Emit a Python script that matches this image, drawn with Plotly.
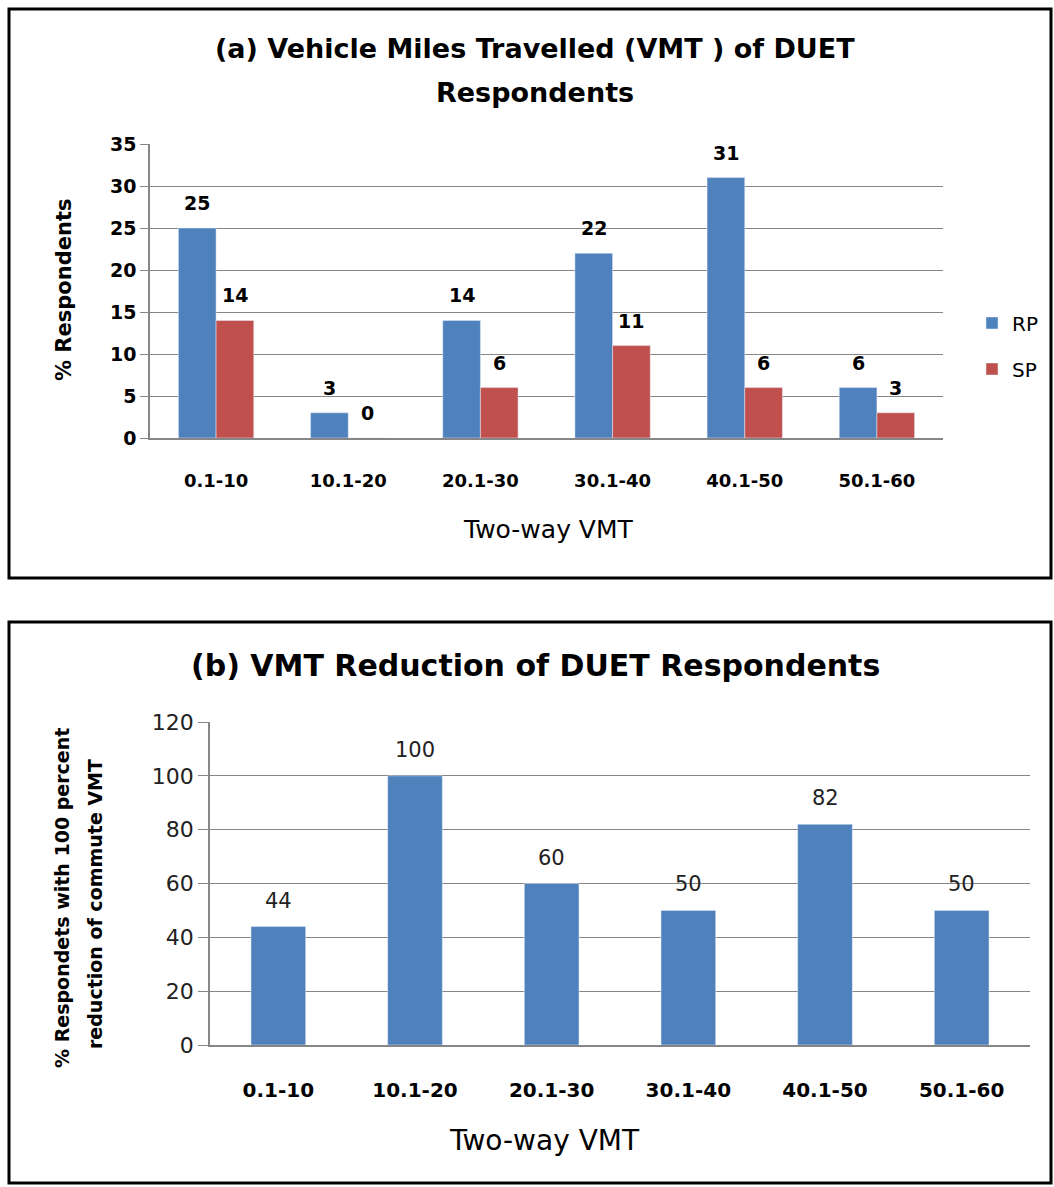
import plotly.graph_objects as go

# Two-way VMT bins shared by both panels
categories = ["0.1-10", "10.1-20", "20.1-30", "30.1-40", "40.1-50", "50.1-60"]

# Panel (a): % respondents per VMT bin
rp_values = [25, 3, 14, 22, 31, 6]
sp_values = [14, 0, 6, 11, 6, 3]

# Panel (b): % respondents with 100 percent reduction of commute VMT
reduction_values = [44, 100, 60, 50, 82, 50]

BLUE = "#4F81BD"
RED = "#C0504D"
GRID = "#868686"
FONT = "DejaVu Sans"

W, H = 1054, 1187


def px_x(v):
    return v / W


def px_y(v):
    return 1 - v / H


def label(x, y, text, size, bold=False, angle=0, color="black", **kw):
    f = dict(family=FONT, size=size, color=color)
    if bold:
        f["weight"] = "bold"
    return dict(x=x, y=y, text=text, showarrow=False, textangle=angle,
                xanchor="center", yanchor="middle", font=f, **kw)


def paper_label(xp, yp, text, size, **kw):
    return label(px_x(xp), px_y(yp), text, size, xref="paper", yref="paper", **kw)


fig = go.Figure()

fig.add_trace(go.Bar(x=categories, y=rp_values, name="RP", marker_color=BLUE,
                     xaxis="x", yaxis="y", legendgroup="rp"))
fig.add_trace(go.Bar(x=categories, y=sp_values, name="SP", marker_color=RED,
                     xaxis="x", yaxis="y", legendgroup="sp"))
fig.add_trace(go.Bar(x=categories, y=reduction_values, name="reduction",
                     marker_color=BLUE, width=0.4, showlegend=False,
                     xaxis="x2", yaxis="y2"))

annotations = []
# value labels above the grouped bars in panel (a)
for i, v in enumerate(rp_values):
    annotations.append(label(i - 0.143, v, str(v), 19, bold=True,
                             xref="x", yref="y", yshift=25))
for i, v in enumerate(sp_values):
    annotations.append(label(i + 0.143, v, str(v), 19, bold=True,
                             xref="x", yref="y", yshift=25))
# value labels above the bars in panel (b)
for i, v in enumerate(reduction_values):
    annotations.append(label(i, v, str(v), 21, color="#222222",
                             xref="x2", yref="y2", yshift=26))

# panel titles
annotations.append(paper_label(535, 48, "(a) Vehicle Miles Travelled (VMT ) of DUET",
                               27, bold=True))
annotations.append(paper_label(535, 92, "Respondents", 27, bold=True))
annotations.append(paper_label(535, 665, "(b) VMT Reduction of DUET Respondents",
                               30, bold=True))

# axis titles
annotations.append(paper_label(548, 530, "Two-way VMT", 25))
annotations.append(paper_label(544, 1140, "Two-way VMT", 28))
annotations.append(paper_label(64, 290, "% Respondents", 21, bold=True, angle=-90))
annotations.append(paper_label(62, 898, "% Respondets with 100 percent", 19,
                               bold=True, angle=-90))
annotations.append(paper_label(95, 904, "reduction of commute VMT", 19,
                               bold=True, angle=-90))

# panel frames
shapes = [
    dict(type="rect", xref="paper", yref="paper",
         x0=px_x(9), x1=px_x(1051), y0=px_y(578), y1=px_y(9),
         line=dict(color="black", width=3)),
    dict(type="rect", xref="paper", yref="paper",
         x0=px_x(9), x1=px_x(1051), y0=px_y(1183), y1=px_y(622),
         line=dict(color="black", width=3)),
]

fig.update_layout(
    width=W, height=H,
    margin=dict(l=0, r=0, t=0, b=0, autoexpand=False),
    paper_bgcolor="white", plot_bgcolor="white",
    barmode="group", bargap=0.43, bargroupgap=0,
    showlegend=True,
    legend=dict(x=px_x(972), y=px_y(346), xanchor="left", yanchor="middle",
                font=dict(family=FONT, size=20, color="black"),
                tracegroupgap=17, bgcolor="rgba(0,0,0,0)"),
    annotations=annotations,
    shapes=shapes,
    xaxis=dict(domain=[px_x(150), px_x(943)], anchor="y",
               showline=True, linecolor=GRID, linewidth=1.5, ticks="",
               ticklabelstandoff=26,
               tickfont=dict(family=FONT, size=18, color="black", weight="bold"),
               showgrid=False, fixedrange=True),
    yaxis=dict(domain=[px_y(438), px_y(144)], anchor="x", range=[0, 35],
               dtick=5, showline=True, linecolor=GRID, linewidth=1.5,
               ticks="outside", ticklen=8, tickcolor=GRID,
               gridcolor=GRID, gridwidth=1.3, zeroline=False,
               tickfont=dict(family=FONT, size=19, color="black", weight="bold")),
    xaxis2=dict(domain=[px_x(210), px_x(1030)], anchor="y2",
                showline=True, linecolor=GRID, linewidth=1.5, ticks="",
                ticklabelstandoff=26,
                tickfont=dict(family=FONT, size=20, color="black", weight="bold"),
                showgrid=False),
    yaxis2=dict(domain=[px_y(1045), px_y(722)], anchor="x2", range=[0, 120],
                dtick=20, showline=True, linecolor=GRID, linewidth=1.5,
                ticks="outside", ticklen=10, tickcolor=GRID,
                gridcolor=GRID, gridwidth=1.3, zeroline=False,
                tickfont=dict(family=FONT, size=22, color="#222222")),
)

fig.write_html("out.html")
